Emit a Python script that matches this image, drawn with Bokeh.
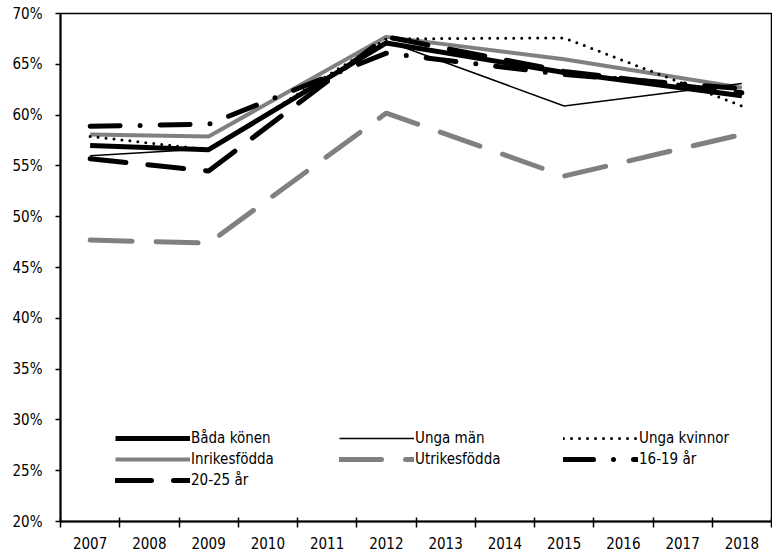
from bokeh.plotting import figure
from bokeh.models import Range1d, FixedTicker, PrintfTickFormatter
from bokeh.embed import file_html
from bokeh.resources import INLINE

# ---- data ----
all_years = list(range(2007, 2019))
years = [2007, 2009, 2012, 2015, 2018]
bada_konen = [57.0, 56.6, 67.1, 64.2, 61.9]
unga_man = [56.0, 56.7, 67.3, 60.9, 63.1]
unga_kvinnor = [57.9, 56.6, 67.5, 67.6, 60.9]
inrikesfodda = [58.1, 57.9, 67.7, 65.5, 62.7]
utrikesfodda = [47.7, 47.4, 60.2, 54.0, 58.1]
age_16_19 = [58.9, 59.1, 66.1, 64.0, 62.6]
age_20_25 = [55.7, 54.5, 67.7, 64.3, 62.2]
y_ticks = [20, 25, 30, 35, 40, 45, 50, 55, 60, 65, 70]

FONT = "'DejaVu Sans Condensed', 'Liberation Sans Narrow', 'Roboto Condensed', sans-serif"
GRAY = "#808080"

p = figure(width=772, height=555, output_backend="svg", toolbar_location=None,
           x_range=Range1d(all_years[0] - 0.5, all_years[-1] + 0.5),
           y_range=Range1d(y_ticks[0], y_ticks[-1]),
           min_border_left=60, min_border_right=1, min_border_top=13, min_border_bottom=34)

p.xgrid.visible = False
p.ygrid.visible = False
p.outline_line_color = "black"
p.outline_line_width = 1.5
p.background_fill_color = "white"
p.border_fill_color = "white"

# x axis: labels at years, ticks at boundaries
p.xaxis.ticker = FixedTicker(ticks=all_years, minor_ticks=[y - 0.5 for y in all_years] + [all_years[-1] + 0.5])
p.xaxis.major_tick_in = 0
p.xaxis.major_tick_out = 0
p.xaxis.minor_tick_in = 4
p.xaxis.minor_tick_out = 6
p.xaxis.minor_tick_line_color = "black"
p.xaxis.minor_tick_line_width = 1.5
p.xaxis.major_label_standoff = 9
p.xaxis.axis_line_width = 2
p.xaxis.axis_line_color = "black"

p.yaxis.ticker = FixedTicker(ticks=y_ticks)
p.yaxis.formatter = PrintfTickFormatter(format="%d%%")
p.yaxis.major_tick_in = 0
p.yaxis.major_tick_out = 5
p.yaxis.minor_tick_out = 0
p.yaxis.minor_tick_in = 0
p.yaxis.major_tick_line_width = 1.5
p.yaxis.major_label_standoff = 13
p.yaxis.axis_line_width = 2
p.yaxis.axis_line_color = "black"

for ax in (p.xaxis, p.yaxis):
    ax.major_label_text_font = FONT
    ax.major_label_text_font_size = "15px"
    ax.major_label_text_color = "black"

p.line(years, inrikesfodda, line_color=GRAY, line_width=4, legend_label="Inrikesfödda")
p.line(years, utrikesfodda, line_color=GRAY, line_width=5, line_dash="42 24", line_cap="round",
       legend_label="Utrikesfödda")
p.line(years, unga_kvinnor, line_color="black", line_width=3, line_dash="0 8", line_cap="round",
       legend_label="Unga kvinnor")
p.line(years, age_16_19, line_color="black", line_width=5, line_dash="30 20 0 20", line_cap="round",
       legend_label="16-19 år")
p.line(years, age_20_25, line_color="black", line_width=5, line_dash="36 22", line_cap="round",
       legend_label="20-25 år")
p.line(years, bada_konen, line_color="black", line_width=5, legend_label="Båda könen")
p.line(years, unga_man, line_color="black", line_width=1.5, legend_label="Unga män")

order = ["Båda könen", "Unga män", "Unga kvinnor", "Inrikesfödda", "Utrikesfödda", "16-19 år", "20-25 år"]
leg = p.legend[0]
items = {it.label.value: it for it in leg.items}
leg.items = [items[k] for k in order]
leg.orientation = "horizontal"
leg.ncols = 3
leg.location = (55, 31)
leg.glyph_width = 75
leg.glyph_height = 20
leg.label_height = 20
leg.label_width = 147
leg.label_standoff = 1
leg.spacing = 1
leg.padding = 0
leg.margin = 0
leg.border_line_alpha = 0
leg.background_fill_alpha = 0
leg.label_text_font = FONT
leg.label_text_font_size = "15px"
leg.label_text_color = "black"

open("out.html", "w").write(file_html(p, INLINE))
